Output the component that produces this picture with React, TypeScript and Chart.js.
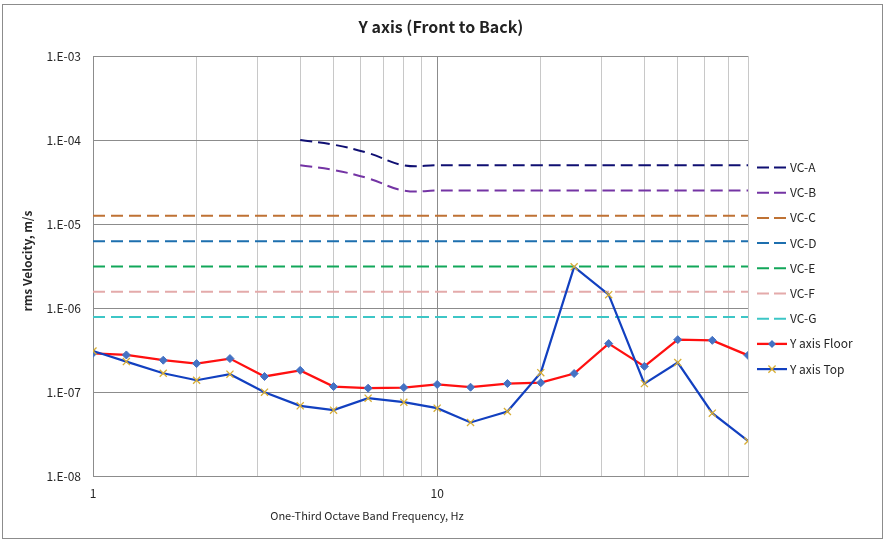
import React, { useEffect, useRef } from "react";
import { Chart, registerables } from "chart.js";

Chart.register(...registerables);

const freqs = [1, 1.25, 1.6, 2, 2.5, 3.15, 4, 5, 6.3, 8, 10, 12.5, 16, 20, 25, 31.5, 40, 50, 63, 80];
const floorValues = [2.89e-7, 2.76e-7, 2.39e-7, 2.18e-7, 2.5e-7, 1.53e-7, 1.81e-7, 1.16e-7, 1.11e-7, 1.13e-7, 1.23e-7, 1.14e-7, 1.26e-7, 1.29e-7, 1.66e-7, 3.77e-7, 2.02e-7, 4.2e-7, 4.12e-7, 2.73e-7];
const topValues = [3.08e-7, 2.3e-7, 1.67e-7, 1.38e-7, 1.63e-7, 9.95e-8, 6.85e-8, 6.08e-8, 8.44e-8, 7.56e-8, 6.42e-8, 4.34e-8, 5.86e-8, 1.7e-7, 3.09e-6, 1.44e-6, 1.26e-7, 2.24e-7, 5.6e-8, 2.61e-8];

const vcCurveFreqs = [4, 5, 6.3, 8, 10, 12.5, 16, 20, 25, 31.5, 40, 50, 63, 80];
const vcA = [1e-4, 8.8e-5, 7.0e-5, 5e-5, 5e-5, 5e-5, 5e-5, 5e-5, 5e-5, 5e-5, 5e-5, 5e-5, 5e-5, 5e-5];
const vcB = [5e-5, 4.4e-5, 3.5e-5, 2.5e-5, 2.5e-5, 2.5e-5, 2.5e-5, 2.5e-5, 2.5e-5, 2.5e-5, 2.5e-5, 2.5e-5, 2.5e-5, 2.5e-5];
const vcFlatFreqs = [1, 80];
const vcC = [1.25e-5, 1.25e-5];
const vcD = [6.25e-6, 6.25e-6];
const vcE = [3.12e-6, 3.12e-6];
const vcF = [1.56e-6, 1.56e-6];
const vcG = [7.8e-7, 7.8e-7];

const xGridValues = [1, 2, 3, 4, 5, 6, 7, 8, 9, 10, 20, 30, 40, 50, 60, 70, 80];
const xLabelValues = [1, 10];
const xTickLabels = ["1", "10"];
const yTicks = [1e-8, 1e-7, 1e-6, 1e-5, 1e-4, 1e-3];
const yTickLabels = ["1.E-08", "1.E-07", "1.E-06", "1.E-05", "1.E-04", "1.E-03"];

const FONT = "'Noto Sans CJK KR', 'Noto Sans', sans-serif";

const pts = (xs: number[], ys: (number | null)[]) => xs.map((x, i) => ({ x, y: ys[i] }));

const decor = {
  id: "decor",
  beforeDraw(chart: any) {
    const ctx = chart.ctx;
    ctx.save();
    ctx.fillStyle = "#ffffff";
    ctx.fillRect(0, 0, chart.width, chart.height);
    ctx.strokeStyle = "#8c8c8c";
    ctx.lineWidth = 1;
    ctx.strokeRect(2.5, 4.5, 880, 534);
    ctx.restore();
  },
  afterDraw(chart: any) {
    const ctx = chart.ctx;
    ctx.save();
    ctx.fillStyle = "#222222";
    ctx.textAlign = "center";
    ctx.textBaseline = "middle";
    ctx.font = `bold 16px ${FONT}`;
    ctx.fillText("Y axis (Front to Back)", 441, 27);
    ctx.font = `11px ${FONT}`;
    ctx.fillStyle = "#262626";
    ctx.fillText("One-Third Octave Band Frequency, Hz", 367, 516);
    ctx.save();
    ctx.translate(27, 261);
    ctx.rotate(-Math.PI / 2);
    ctx.font = `bold 12px ${FONT}`;
    ctx.fillText("rms Velocity, m/s", 0, 0);
    ctx.restore();

    // legend
    chart.data.datasets.forEach((ds: any, i: number) => {
      const y = 167.5 + i * 25.2;
      ctx.save();
      ctx.strokeStyle = ds.borderColor;
      ctx.lineWidth = ds.borderWidth;
      ctx.setLineDash(ds.borderDash && ds.borderDash.length ? [12, 5] : []);
      ctx.beginPath();
      ctx.moveTo(757, y);
      ctx.lineTo(787, y);
      ctx.stroke();
      ctx.setLineDash([]);
      if (ds.pointStyle === "rectRot") {
        const r = 4;
        ctx.fillStyle = ds.pointBackgroundColor;
        ctx.beginPath();
        ctx.moveTo(772, y - r);
        ctx.lineTo(772 + r, y);
        ctx.lineTo(772, y + r);
        ctx.lineTo(772 - r, y);
        ctx.closePath();
        ctx.fill();
      } else if (ds.pointStyle === "crossRot") {
        const r = 3.6;
        ctx.strokeStyle = ds.pointBorderColor;
        ctx.lineWidth = ds.pointBorderWidth;
        ctx.beginPath();
        ctx.moveTo(772 - r, y - r);
        ctx.lineTo(772 + r, y + r);
        ctx.moveTo(772 + r, y - r);
        ctx.lineTo(772 - r, y + r);
        ctx.stroke();
      }
      ctx.restore();
      ctx.fillStyle = "#262626";
      ctx.textAlign = "left";
      ctx.textBaseline = "middle";
      ctx.font = `12px ${FONT}`;
      ctx.fillText(ds.label, 790, y);
    });
    ctx.restore();
  },
};

export default function App() {
  const ref = useRef<HTMLCanvasElement | null>(null);
  useEffect(() => {
    document.body.style.margin = "0";
    if (!ref.current) return;
    const dash = [12, 6];
    const vc = (label: string, xs: number[], ys: number[], color: string, tension = 0) => ({
      label,
      data: pts(xs, ys),
      borderColor: color,
      backgroundColor: color,
      borderWidth: 2,
      borderDash: dash,
      pointRadius: 0,
      tension,
      order: 5,
    });
    const chart = new Chart(ref.current, {
      type: "line",
      data: {
        datasets: [
          vc("VC-A", vcCurveFreqs, vcA, "#0f0f72", 0.4),
          vc("VC-B", vcCurveFreqs, vcB, "#7434a4", 0.4),
          vc("VC-C", vcFlatFreqs, vcC, "#bf7234"),
          vc("VC-D", vcFlatFreqs, vcD, "#1d6fae"),
          vc("VC-E", vcFlatFreqs, vcE, "#12a75a"),
          vc("VC-F", vcFlatFreqs, vcF, "#e4aaaa"),
          vc("VC-G", vcFlatFreqs, vcG, "#3dc6c6"),
          {
            label: "Y axis Floor",
            data: pts(freqs, floorValues),
            borderColor: "#ff1010",
            backgroundColor: "#4472c4",
            borderWidth: 2.3,
            pointStyle: "rectRot",
            pointRadius: 4,
            pointBackgroundColor: "#4472c4",
            pointBorderColor: "#4472c4",
            pointBorderWidth: 1,
            tension: 0,
            order: 1,
          },
          {
            label: "Y axis Top",
            data: pts(freqs, topValues),
            borderColor: "#1240c0",
            backgroundColor: "#d8ae34",
            borderWidth: 2.2,
            pointStyle: "crossRot",
            pointRadius: 5,
            pointBackgroundColor: "#d8ae34",
            pointBorderColor: "#d8ae34",
            pointBorderWidth: 1.3,
            tension: 0,
            order: 0,
          },
        ] as any,
      },
      options: {
        animation: false,
        responsive: false,
        devicePixelRatio: 1,
        layout: { padding: { left: 0, top: 56, right: 139, bottom: 0 } },
        plugins: {
          legend: { display: false },
          title: { display: false },
          tooltip: { enabled: false },
        },
        scales: {
          x: {
            type: "logarithmic",
            min: 1,
            max: 80,
            afterBuildTicks: (s: any) => {
              s.ticks = xGridValues.map((v) => ({ value: v }));
            },
            afterFit: (s: any) => {
              s.height = 69;
            },
            ticks: {
              autoSkip: false,
              maxRotation: 0,
              padding: 10,
              color: "#262626",
              font: { family: FONT, size: 12 },
              callback: (v: any) => {
                const i = xLabelValues.indexOf(Number(v));
                return i >= 0 ? xTickLabels[i] : "";
              },
            },
            grid: {
              drawTicks: false,
              color: (c: any) => (c.tick && xLabelValues.includes(c.tick.value) ? "#8c8c8c" : "#c8c8c8"),
              lineWidth: 1,
            },
            border: { display: true, color: "#8c8c8c" },
          },
          y: {
            type: "logarithmic",
            min: 1e-8,
            max: 1e-3,
            afterBuildTicks: (s: any) => {
              s.ticks = yTicks.map((v) => ({ value: v }));
            },
            afterFit: (s: any) => {
              s.width = 93;
            },
            ticks: {
              autoSkip: false,
              padding: 12,
              color: "#262626",
              font: { family: FONT, size: 12 },
              callback: (v: any) => {
                const i = yTicks.findIndex((t) => Math.abs(Math.log10(t) - Math.log10(Number(v))) < 1e-6);
                return i >= 0 ? yTickLabels[i] : "";
              },
            },
            grid: { drawTicks: false, color: "#8c8c8c", lineWidth: 1 },
            border: { display: true, color: "#8c8c8c" },
          },
        },
      },
      plugins: [decor],
    } as any);
    return () => chart.destroy();
  }, []);
  return (
    <div style={{ width: 887, height: 545 }}>
      <canvas ref={ref} width={887} height={545} style={{ width: 887, height: 545, display: "block" }} />
    </div>
  );
}
